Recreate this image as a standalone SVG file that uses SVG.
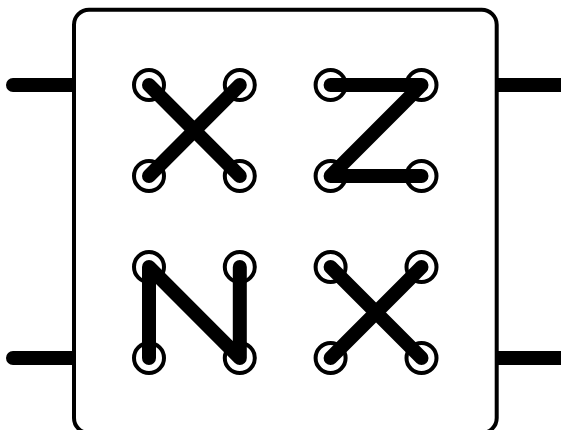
<svg xmlns="http://www.w3.org/2000/svg" width="561" height="430" viewBox="0 0 561 430">
<style>
.box{fill:#fff;stroke:#000;stroke-width:4}
.port{fill:#fff;stroke:#000;stroke-width:4}
.wire{fill:none;stroke:#000;stroke-width:14;stroke-linecap:round;stroke-linejoin:round}
</style>
<rect width="561" height="430" fill="#fff"/>
<g id="connectors">
<path class="wire" d="M13 85H74M13 358H74M497 85H575M497 358H575"/>
</g>
<g id="box"><rect class="box" x="74" y="9.7" width="422.7" height="423.3" rx="15" ry="15"/></g>
<g id="switch-top-left">
<circle class="port" cx="149" cy="85" r="15"/><circle class="port" cx="239.8" cy="85" r="15"/><circle class="port" cx="149" cy="176" r="15"/><circle class="port" cx="239.8" cy="176" r="15"/>
<path class="wire" d="M149 85L239.8 176M239.8 85L149 176"/>
</g>
<g id="switch-top-right">
<circle class="port" cx="330.6" cy="85" r="15"/><circle class="port" cx="421.5" cy="85" r="15"/><circle class="port" cx="330.6" cy="176" r="15"/><circle class="port" cx="421.5" cy="176" r="15"/>
<path class="wire" d="M330.6 85H421.5L330.6 176H421.5"/>
</g>
<g id="switch-bottom-left">
<circle class="port" cx="149" cy="267" r="15"/><circle class="port" cx="239.8" cy="267" r="15"/><circle class="port" cx="149" cy="358" r="15"/><circle class="port" cx="239.8" cy="358" r="15"/>
<path class="wire" d="M149 358V267L239.8 358V267"/>
</g>
<g id="switch-bottom-right">
<circle class="port" cx="330.6" cy="267" r="15"/><circle class="port" cx="421.5" cy="267" r="15"/><circle class="port" cx="330.6" cy="358" r="15"/><circle class="port" cx="421.5" cy="358" r="15"/>
<path class="wire" d="M330.6 267L421.5 358M421.5 267L330.6 358"/>
</g>
</svg>
